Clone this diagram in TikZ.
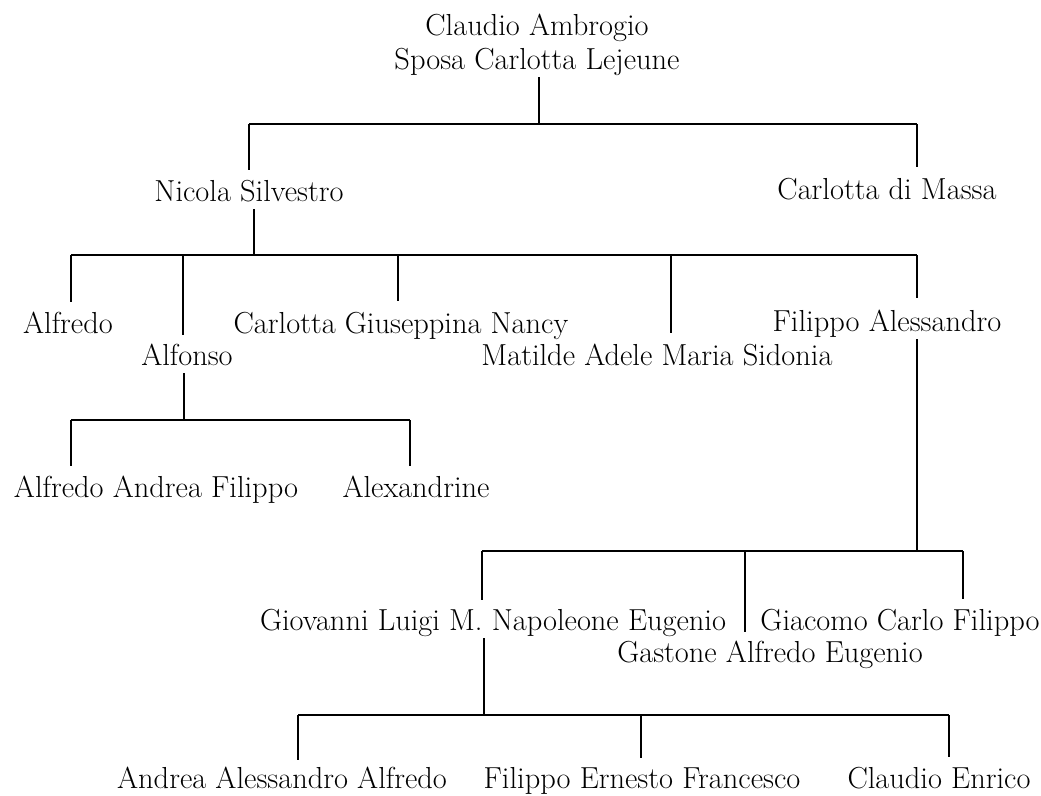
\documentclass[tikz,border=0pt]{standalone}
\usepackage{tikz}

\begin{document}
\begin{tikzpicture}[x=0.02cm,y=-0.02cm,
    person/.style={font=\fontsize{17.3}{20}\selectfont,inner sep=2pt,
      text depth=0.25em,anchor=base},
    bar/.style={line width=1.1pt},
    drop/.style={line width=0.7pt}]
  \useasboundingbox (0,0) rectangle (1041,795);
  % first generation
  \node[person] (ca) at (537,35) {Claudio Ambrogio};
  \node[person] (sc) at (537,69) {Sposa Carlotta Lejeune};
  \node[person] (ns) at (249,201) {Nicola Silvestro};
  \node[person] (cm) at (887,199) {Carlotta di Massa};
  \coordinate (bar1) at (539,124);
  \coordinate (ns-t) at (249,170);
  \coordinate (cm-t) at (917,167);
  \draw[drop] (sc.south -| bar1) -- (bar1);
  \draw[bar] (ns-t |- bar1) -- (cm-t |- bar1);
  \foreach \c in {ns-t,cm-t}
    \draw[drop] (\c |- bar1) -- (\c);
  % children of Nicola Silvestro
  \node[person] (af) at (68,333) {Alfredo};
  \node[person] (alf) at (187,365) {Alfonso};
  \node[person] (cgn) at (401,333) {Carlotta Giuseppina Nancy};
  \node[person] (mat) at (657,365) {Matilde Adele Maria Sidonia};
  \node[person] (fa) at (887,331) {Filippo Alessandro};
  \coordinate (bar2) at (254,255);
  \coordinate (af-t) at (71,302);
  \coordinate (alf-t) at (183,335);
  \coordinate (cgn-t) at (398,301);
  \coordinate (mat-t) at (671,333);
  \coordinate (fa-t) at (917,298);
  \draw[drop] (ns.south -| bar2) -- (bar2);
  \draw[bar] (af-t |- bar2) -- (fa-t |- bar2);
  \foreach \c in {af-t,alf-t,cgn-t,mat-t,fa-t}
    \draw[drop] (\c |- bar2) -- (\c);
  % children of Alfonso
  \node[person] (aaf) at (156,497) {Alfredo Andrea Filippo};
  \node[person] (alx) at (416,497) {Alexandrine};
  \coordinate (bar3) at (184,420);
  \coordinate (aaf-t) at (71,466);
  \coordinate (alx-t) at (410,466);
  \draw[drop] (alf.south -| bar3) -- (bar3);
  \draw[bar] (aaf-t |- bar3) -- (alx-t |- bar3);
  \foreach \c in {aaf-t,alx-t}
    \draw[drop] (\c |- bar3) -- (\c);
  % children of Filippo Alessandro
  \node[person] (glm) at (493,630) {Giovanni Luigi M. Napoleone Eugenio};
  \node[person] (gae) at (770,662) {Gastone Alfredo Eugenio};
  \node[person] (gcf) at (900,630) {Giacomo Carlo Filippo};
  \coordinate (bar4) at (917,551);
  \coordinate (glm-t) at (482,600);
  \coordinate (gae-t) at (745,632);
  \coordinate (gcf-t) at (963,599);
  \draw[drop] (fa.south -| bar4) -- (bar4);
  \draw[bar] (glm-t |- bar4) -- (gcf-t |- bar4);
  \foreach \c in {glm-t,gae-t,gcf-t}
    \draw[drop] (\c |- bar4) -- (\c);
  % children of Giovanni Luigi
  \node[person] (aaa) at (282,788) {Andrea Alessandro Alfredo};
  \node[person] (fef) at (642,788) {Filippo Ernesto Francesco};
  \node[person] (ce) at (939,788) {Claudio Enrico};
  \coordinate (bar5) at (484,715);
  \coordinate (aaa-t) at (298,760);
  \coordinate (fef-t) at (641,758);
  \coordinate (ce-t) at (949,757);
  \draw[drop] (glm.south -| bar5) -- (bar5);
  \draw[bar] (aaa-t |- bar5) -- (ce-t |- bar5);
  \foreach \c in {aaa-t,fef-t,ce-t}
    \draw[drop] (\c |- bar5) -- (\c);
\end{tikzpicture}
\end{document}
